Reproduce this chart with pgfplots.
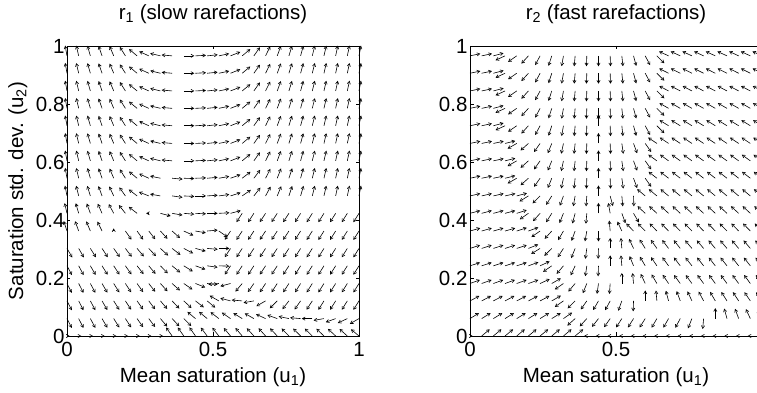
\documentclass[border=0pt]{standalone}
\usepackage{pgfplots}
\pgfplotsset{compat=1.18}
\usepackage{pgfplotstable}
\usetikzlibrary{arrows.meta}
\usepackage{fontspec}
\setmainfont{Liberation Sans}
\newcommand\fs{\fontsize{20.5}{24}\selectfont}

% angle of each arrow in degrees (rows: u2 level, columns: u1 = 0,0.04,...,1);
% values above 999 are 1080+angle and mark the very short arrows
\pgfplotstableread{
y c0 c1 c2 c3 c4 c5 c6 c7 c8 c9 c10 c11 c12 c13 c14 c15 c16 c17 c18 c19 c20 c21 c22 c23 c24 c25
0.966 100 103 106 109 113 122 140 155 166 175 0 3 6 12 22 40 55 64 70 73 75 76 77 78 78 79
0.906 100 103 106 109 113 122 140 155 166 175 0 3 6 12 22 40 55 64 70 73 75 76 77 78 78 79
0.845 100 103 106 109 113 122 140 155 166 175 0 3 6 12 22 40 55 64 70 73 75 76 77 78 78 79
0.785 100 103 106 109 113 122 140 155 166 175 0 3 6 12 22 40 55 64 70 73 75 76 77 78 78 79
0.725 100 103 106 109 113 122 140 155 166 175 0 3 6 12 22 40 55 64 70 73 75 76 77 78 78 79
0.664 100 103 106 109 113 122 140 155 166 175 0 3 6 12 22 40 55 64 70 73 75 76 77 78 78 79
0.604 100 103 106 109 113 122 140 155 166 175 0 3 6 12 22 40 55 64 70 73 75 76 77 78 78 79
0.544 100 103 106 109 113 122 140 155 168 -5 -2 2 5 10 20 38 53 63 69 72 75 76 77 78 78 79
0.483 101 104 107 110 115 125 142 158 170 -8 -3 0 4 8 18 35 52 62 68 72 74 76 77 78 78 79
0.423 103 106 110 114 118 128 142 1260 -15 -10 -5 -3 0 3 15 237 237 237 237 237 238 238 238 238 238 238
0.362 108 110 113 116 1170 -55 -55 -52 -48 -42 -25 -10 5 -35 237 237 237 237 237 237 238 238 238 238 238 238
0.302 -60 -60 -58 -57 -55 -53 -50 -47 -43 -38 -28 -15 -5 0 237 237 237 237 237 237 238 238 238 238 238 238
0.242 -62 -62 -60 -58 -57 -55 -52 -50 -46 -40 -32 -20 -8 -2 237 237 237 237 237 237 238 238 238 238 238 238
0.181 -63 -63 -62 -60 -58 -57 -55 -52 -48 -42 -35 -22 -5 185 195 230 235 237 237 237 238 238 238 238 238 238
0.121 -63 -63 -62 -60 -58 -57 -55 -53 -50 -47 -43 -38 -40 150 165 175 190 210 225 232 235 237 238 238 238 238
0.060 -63 -63 -62 -60 -58 -57 -55 -53 -50 -47 -45 140 140 142 145 148 150 155 160 168 175 180 190 200 205 210
0.000 1080 1080 1080 1080 1080 1080 1080 1080 1080 125 125 125 127 128 130 130 132 132 133 134 135 135 136 137 138 140
}\tabL

\pgfplotstableread{
y c0 c1 c2 c3 c4 c5 c6 c7 c8 c9 c10 c11 c12 c13 c14 c15 c16 c17 c18 c19 c20 c21 c22 c23 c24 c25
0.966 12 12 15 205 215 228 242 252 260 265 268 270 272 276 285 298 315 155 155 155 155 155 155 155 155 155
0.906 12 12 15 205 215 228 242 252 260 265 268 270 272 276 285 298 315 153 153 153 153 153 153 153 153 153
0.845 12 12 15 205 215 228 242 252 260 265 268 270 272 276 285 298 315 152 152 152 152 152 152 152 152 152
0.785 12 12 15 205 215 228 242 252 260 265 268 270 272 276 285 298 315 150 150 150 150 150 150 150 150 150
0.725 12 12 15 205 215 228 242 252 260 265 268 90 272 276 285 298 315 148 148 148 148 148 148 148 148 148
0.664 12 12 12 14 210 222 235 248 258 264 268 90 272 278 290 305 146 146 146 146 146 146 146 146 146 146
0.604 12 12 12 14 210 222 235 248 258 264 268 90 272 278 290 305 144 144 144 144 144 144 144 144 144 144
0.544 12 12 12 14 210 222 235 248 258 264 268 90 272 278 290 305 142 142 142 142 142 142 142 142 142 142
0.483 13 13 13 13 15 212 225 238 250 260 266 90 285 275 272 140 140 140 140 140 140 140 140 140 140 140
0.423 15 15 15 15 18 215 228 238 248 255 265 90 100 290 300 137 137 137 137 137 137 137 137 137 137 137
0.362 16 16 16 16 18 20 215 228 240 250 260 270 95 115 134 134 134 134 134 134 134 134 134 134 134 134
0.302 18 18 18 18 18 22 212 225 237 248 262 268 90 95 115 122 125 127 128 130 130 130 130 130 130 130
0.242 18 18 18 18 18 20 25 215 230 245 262 268 90 95 112 120 124 126 127 128 128 128 128 128 128 128
0.181 20 20 20 20 20 20 25 30 215 230 248 262 266 90 95 115 120 124 126 126 126 126 126 126 126 126
0.121 28 28 28 28 28 28 28 30 215 225 235 240 242 250 268 90 95 105 110 115 118 120 122 123 124 124
0.060 32 32 32 32 32 32 32 32 35 222 228 232 235 237 238 238 240 240 242 248 265 90 105 110 115 118
0.000 1080 40 40 40 40 40 40 40 40 40 1260 1260 1260 1260 1260 1260 1260 1260 1260 1260 1260 1260 1260 1260 1260 1260
}\tabR

\pgfplotsset{
  quivax/.style={
    scale only axis, width=292pt, height=290pt, anchor=south west,
    xmin=0, xmax=1, ymin=0, ymax=1,
    xtick={0,0.5,1}, ytick={0,0.2,0.4,0.6,0.8,1},
    tick align=inside, major tick length=3.5pt,
    axis line style={line width=0.7pt},
    every tick/.append style={line width=0.7pt, black},
    tick label style={font=\fs},
    xticklabel style={yshift=-3pt},
    yticklabel style={xshift=1pt},
    /pgf/number format/assume math mode=true,
    clip=false,
    every axis title/.style={at={(axis description cs:0.5,1.11)}, anchor=center, font=\fs},
    every axis x label/.style={at={(axis description cs:0.5,-0.141)}, anchor=center, font=\fs},
    every axis y label/.style={at={(axis description cs:-0.168,0.5)}, rotate=90, anchor=center, font=\fs},
  },
  arr/.style={black, line width=0.6pt, -{Straight Barb[length=2.8pt,width=3.2pt]}},
}

\newcommand\quivcols[1]{%
  \foreach \i/\xv in {0/0,1/0.04,2/0.08,3/0.12,4/0.16,5/0.2,6/0.24,7/0.28,8/0.32,9/0.36,10/0.4,11/0.44,12/0.48,13/0.52,14/0.56,15/0.6,16/0.64,17/0.68,18/0.72,19/0.76,20/0.8,21/0.84,22/0.88,23/0.92,24/0.96,25/1}{%
    \edef\doplot{\noexpand\addplot[arr, quiver={u={(\noexpand\thisrow{c\i}>999 ? 0.009 : 0.036)*cos(\noexpand\thisrow{c\i})}, v={(\noexpand\thisrow{c\i}>999 ? 0.009 : 0.036)*sin(\noexpand\thisrow{c\i})}}] table[x expr=\xv, y=y] {\noexpand#1};}%
    \doplot
  }%
}

\begin{document}
\begin{tikzpicture}
\begin{axis}[quivax, at={(67pt,57pt)},
  title={r\textsubscript{1} (slow rarefactions)},
  xlabel={Mean saturation (u\textsubscript{1})},
  ylabel={Saturation std. dev. (u\textsubscript{2})}]
\quivcols{\tabL}
\end{axis}
\begin{axis}[quivax, at={(470pt,57pt)},
  title={r\textsubscript{2} (fast rarefactions)},
  xlabel={Mean saturation (u\textsubscript{1})}]
\quivcols{\tabR}
\end{axis}
\pgfresetboundingbox
\path[use as bounding box] (0pt,0pt) rectangle (757pt,393pt);
\end{tikzpicture}
\end{document}
